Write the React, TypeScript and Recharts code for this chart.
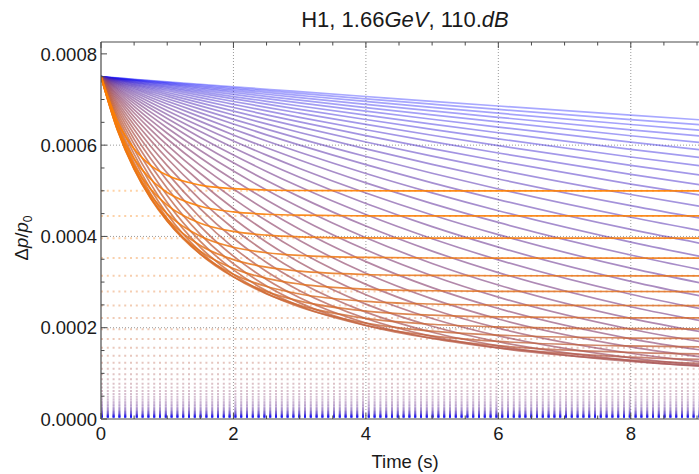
import React from 'react';
import { LineChart, Line, XAxis, YAxis, ReferenceLine } from 'recharts';

// Values in units of 1e-6 (Δp/p0 × 10^6)
const TIMES = [0, 0.25, 0.5, 0.75, 1, 1.5, 2, 2.5, 3, 4, 5, 6, 8, 10];

const ASYMPTOTES = [500, 445, 396.1, 352.5, 313.7, 279.2, 248.5, 221.2, 196.8, 175.2, 155.9, 138.8, 123.5, 109.9, 97.8, 87.1, 77.5, 69.0, 61.4, 54.6, 48.6, 43.3, 38.5, 34.3, 30.5, 27.2, 24.2, 21.5, 19.1, 17.0, 15.2, 13.5, 12.0, 10.7, 9.5, 8.5, 7.5, 6.7, 6.0, 5.3, 4.7, 4.2, 3.7];

const CURVES = [
  [750, 651.6, 592.0, 555.8, 533.8, 512.4, 504.6, 501.7, 500.6, 500.1, 500, 500, 500, 500],
  [750, 640.4, 570.3, 525.3, 496.4, 466.1, 453.7, 448.6, 446.5, 445.2, 445, 445, 445, 445],
  [750, 634.3, 556.4, 504.0, 468.7, 428.9, 410.9, 402.8, 399.1, 396.7, 396.2, 396.1, 396.1, 396.1],
  [750, 632.0, 548.9, 490.6, 449.5, 400.4, 376.2, 364.2, 358.3, 353.9, 352.8, 352.6, 352.5, 352.5],
  [750, 632.5, 546.7, 483.9, 438.1, 380.1, 349.2, 332.6, 323.8, 316.6, 314.5, 313.9, 313.7, 313.7],
  [750, 635.3, 548.5, 482.9, 433.3, 367.4, 329.7, 308.1, 295.7, 284.6, 281.0, 279.8, 279.3, 279.2],
  [750, 639.7, 553.6, 486.5, 434.1, 361.4, 317.2, 290.3, 273.9, 257.9, 252.0, 249.8, 248.7, 248.5],
  [750, 645.1, 561.0, 493.6, 439.5, 361.5, 311.4, 279.1, 258.4, 236.5, 227.5, 223.8, 221.6, 221.2],
  [750, 651.1, 570.0, 503.3, 448.5, 366.6, 311.4, 274.1, 248.9, 220.5, 207.6, 201.7, 197.8, 197.0],
  [750, 657.7, 580.1, 515.1, 460.5, 376.2, 316.8, 274.9, 245.4, 210.0, 192.5, 183.8, 177.3, 175.7],
  [750, 664.2, 590.8, 528.0, 474.3, 389.0, 326.6, 280.8, 247.4, 204.9, 182.2, 170.0, 160.0, 157.1],
  [750, 670.8, 601.9, 541.9, 489.7, 404.7, 340.2, 291.4, 254.4, 205.2, 176.9, 160.6, 146.0, 141.1],
  [750, 677.2, 612.9, 556.0, 505.8, 422.1, 356.7, 305.7, 265.8, 210.3, 176.5, 155.8, 135.5, 128.0],
  [750, 683.4, 623.7, 570.2, 522.3, 440.9, 375.6, 323.2, 281.1, 220.2, 180.9, 155.7, 128.9, 117.8],
  [750, 689.2, 634.1, 584.1, 538.8, 460.4, 396.0, 343.0, 299.5, 234.2, 190.0, 160.1, 126.3, 110.8],
  [750, 694.7, 644.1, 597.6, 555.1, 480.3, 417.4, 364.7, 320.3, 251.7, 203.3, 169.2, 128.0, 107.4],
  [750, 699.9, 653.4, 610.5, 570.8, 500.0, 439.3, 387.4, 342.9, 272.2, 220.3, 182.2, 133.9, 107.8],
  [750, 704.7, 662.3, 622.8, 585.8, 519.3, 461.3, 410.8, 366.7, 295.0, 240.5, 199.1, 144.0, 112.2],
  [750, 709.0, 670.5, 634.2, 600.1, 537.9, 482.8, 434.2, 391.1, 319.4, 263.2, 219.2, 158.0, 120.6],
  [750, 713.0, 678.0, 644.8, 613.5, 555.6, 503.8, 457.3, 415.6, 344.8, 287.8, 242.1, 175.7, 132.8],
  [750, 716.7, 685.0, 654.8, 626.1, 572.5, 524.0, 480.0, 440.0, 370.8, 313.9, 267.0, 196.7, 148.9],
  [750, 720.1, 691.5, 664.0, 637.7, 588.4, 543.2, 501.8, 463.8, 397.0, 340.8, 293.5, 220.3, 168.5],
  [750, 723.1, 697.3, 672.4, 648.4, 603.2, 561.4, 522.6, 486.7, 422.7, 367.9, 320.8, 246.0, 191.0],
  [750, 725.9, 702.7, 680.1, 658.4, 617.0, 578.4, 542.4, 508.7, 447.9, 394.9, 348.7, 273.4, 216.0],
  [750, 728.4, 707.4, 687.1, 667.3, 629.7, 594.2, 560.8, 529.5, 472.2, 421.4, 376.5, 301.6, 242.9],
  [750, 730.6, 711.8, 693.5, 675.6, 641.4, 608.9, 578.1, 549.0, 495.3, 447.1, 404.0, 330.4, 271.2],
  [750, 732.7, 715.8, 699.3, 683.2, 652.1, 622.4, 594.3, 567.3, 517.3, 471.9, 430.7, 359.3, 300.4],
  [750, 734.5, 719.3, 704.5, 690.0, 661.9, 634.9, 609.0, 584.3, 537.9, 495.4, 456.3, 387.6, 329.7],
  [750, 736.1, 722.6, 709.2, 696.1, 670.7, 646.2, 622.6, 600.0, 557.2, 517.5, 480.8, 415.3, 359.0],
  [750, 737.6, 725.4, 713.5, 701.7, 678.8, 656.6, 635.2, 614.4, 575.2, 538.4, 504.0, 442.0, 387.9],
  [750, 738.9, 728.1, 717.3, 706.8, 686.1, 666.1, 646.6, 627.8, 591.8, 557.8, 525.9, 467.6, 415.9],
  [750, 740.1, 730.4, 720.8, 711.3, 692.7, 674.7, 657.1, 639.9, 607.0, 575.8, 546.3, 491.8, 442.8],
  [750, 741.2, 732.5, 723.9, 715.4, 698.7, 682.4, 666.5, 651.0, 621.0, 592.4, 565.2, 514.6, 468.5],
  [750, 742.2, 734.4, 726.7, 719.1, 704.1, 689.5, 675.0, 661.0, 633.8, 607.7, 582.8, 535.8, 492.9],
  [750, 743.0, 736.1, 729.2, 722.4, 708.9, 695.7, 682.8, 670.2, 645.4, 621.7, 598.9, 555.7, 515.7],
  [750, 743.8, 737.6, 731.4, 725.3, 713.3, 701.5, 689.8, 678.4, 656.2, 634.6, 613.7, 574.1, 537.1],
  [750, 744.4, 738.8, 733.4, 727.9, 717.2, 706.5, 696.1, 685.8, 665.7, 646.1, 627.2, 590.9, 556.9],
  [750, 745.0, 740.1, 735.2, 730.3, 720.7, 711.2, 701.8, 692.5, 674.4, 656.7, 639.5, 606.5, 575.2],
  [750, 745.6, 741.2, 736.9, 732.5, 723.8, 715.4, 707.0, 698.6, 682.3, 666.3, 650.8, 620.6, 592.1],
  [750, 746.0, 742.2, 738.2, 734.3, 726.6, 719.0, 711.5, 704.0, 689.3, 674.9, 660.9, 633.6, 607.5],
  [750, 746.5, 743.0, 739.5, 736.0, 729.1, 722.3, 715.5, 708.9, 695.7, 682.7, 670.0, 645.3, 621.6],
  [750, 746.9, 743.7, 740.7, 737.5, 731.4, 725.3, 719.3, 713.3, 701.4, 689.8, 678.3, 656.0, 634.5],
  [750, 747.2, 744.4, 741.6, 738.8, 733.4, 727.9, 722.5, 717.2, 706.6, 696.1, 685.8, 665.7, 646.2],
];

const X_TICKS = [0, 0.5, 1, 1.5, 2, 2.5, 3, 3.5, 4, 4.5, 5, 5.5, 6, 6.5, 7, 7.5, 8, 8.5, 9];
const X_MAJOR = [0, 2, 4, 6, 8];
const X_LABELS = ['0', '2', '4', '6', '8'];
const Y_TICKS = [0, 50, 100, 150, 200, 250, 300, 350, 400, 450, 500, 550, 600, 650, 700, 750, 800];
const Y_MAJOR = [0, 200, 400, 600, 800];
const Y_LABELS = ['0.0000', '0.0002', '0.0004', '0.0006', '0.0008'];
const GRID_X = [2, 4, 6, 8];
const GRID_Y = [200, 400, 600];

const W = 699;
const H = 474;
const MARGIN = { top: 41, right: 0, bottom: 54, left: 100 };
const FONT = '"Liberation Sans", Arial, Helvetica, sans-serif';
const AXIS = '#4a4a4a';
const TEXT = '#1a1a1a';
const N = CURVES.length;

const table = TIMES.map((t, i) => {
  const row: Record<string, number> = { t };
  CURVES.forEach((c, k) => {
    row['c' + k] = c[i];
  });
  return row;
});

function mix(k: number) {
  const f = k / (N - 1);
  return `rgb(${Math.round(255 * (1 - f))},${Math.round(128 * (1 - f))},${Math.round(255 * f)})`;
}

const XTickBottom = (props: any) => {
  const { x, payload } = props;
  const idx = X_MAJOR.indexOf(payload.value);
  const major = idx >= 0;
  return (
    <g>
      <line x1={x} x2={x} y1={419} y2={419 - (major ? 6 : 3.5)} stroke={AXIS} strokeWidth={1} />
      {major && (
        <text x={x} y={440} textAnchor="middle" fontSize={18.5} fontFamily={FONT} fill={TEXT}>
          {X_LABELS[idx]}
        </text>
      )}
    </g>
  );
};

const XTickTop = (props: any) => {
  const { x, payload } = props;
  const major = X_MAJOR.indexOf(payload.value) >= 0;
  return <line x1={x} x2={x} y1={42} y2={42 + (major ? 6 : 3.5)} stroke={AXIS} strokeWidth={1} />;
};

const YTick = (props: any) => {
  const { y, payload } = props;
  const idx = Y_MAJOR.indexOf(payload.value);
  const major = idx >= 0;
  return (
    <g>
      <line x1={101} x2={101 + (major ? 6 : 3.5)} y1={y} y2={y} stroke={AXIS} strokeWidth={1} />
      {major && (
        <text x={97} y={y + 6.7} textAnchor="end" fontSize={18.5} fontFamily={FONT} fill={TEXT}>
          {Y_LABELS[idx]}
        </text>
      )}
    </g>
  );
};

export default function App() {
  const order = CURVES.map((_, k) => N - 1 - k);
  return (
    <div style={{ position: 'absolute', left: 0, top: 0, width: W, height: H, background: '#fff', overflow: 'hidden' }}>
      <LineChart width={W} height={H} data={table} margin={MARGIN}>
        <XAxis
          dataKey="t"
          type="number"
          domain={[0, 9.03]}
          allowDataOverflow
          ticks={X_TICKS}
          interval={0}
          height={1}
          tickSize={0}
          tickMargin={0}
          tickLine={false}
          tick={<XTickBottom />}
          axisLine={{ stroke: AXIS, strokeWidth: 1.2 }}
        />
        <XAxis
          xAxisId="top"
          orientation="top"
          dataKey="t"
          type="number"
          domain={[0, 9.03]}
          allowDataOverflow
          ticks={X_TICKS}
          interval={0}
          height={1}
          tickSize={0}
          tickMargin={0}
          tickLine={false}
          tick={<XTickTop />}
          axisLine={{ stroke: AXIS, strokeWidth: 1.2 }}
        />
        <YAxis
          type="number"
          domain={[0, 826]}
          allowDataOverflow
          ticks={Y_TICKS}
          interval={0}
          width={1}
          tickSize={0}
          tickMargin={0}
          tickLine={false}
          tick={<YTick />}
          axisLine={{ stroke: AXIS, strokeWidth: 1.2 }}
        />
        {GRID_X.map((g) => (
          <ReferenceLine key={'gx' + g} x={g} stroke="#9a9a9a" strokeWidth={1} strokeDasharray="1 2" />
        ))}
        {GRID_Y.map((g) => (
          <ReferenceLine key={'gy' + g} y={g} stroke="#9a9a9a" strokeWidth={1} strokeDasharray="1 2" />
        ))}
        {ASYMPTOTES.map((a, k) => (
          <ReferenceLine
            key={'a' + k}
            y={a}
            stroke={mix(k)}
            strokeOpacity={0.35}
            strokeWidth={2}
            strokeDasharray="2 3.8"
          />
        ))}
        {order.map((k) => (
          <Line
            key={'c' + k}
            dataKey={'c' + k}
            type="monotone"
            stroke={mix(k)}
            strokeOpacity={0.9 - 0.56 * (k / (N - 1))}
            strokeWidth={1.7}
            dot={false}
            activeDot={false}
            isAnimationActive={false}
          />
        ))}
      </LineChart>
      <svg width={W} height={H} style={{ position: 'absolute', left: 0, top: 0, pointerEvents: 'none' }}>
        <text x={405} y={27} textAnchor="middle" fontSize={22} fontFamily={FONT} fill={TEXT}>
          H1, 1.66<tspan fontStyle="italic">GeV</tspan>, 110.<tspan fontStyle="italic">dB</tspan>
        </text>
        <text x={405} y={468} textAnchor="middle" fontSize={18.5} fontFamily={FONT} fill={TEXT}>
          Time (s)
        </text>
        <text transform="translate(28,238) rotate(-90)" textAnchor="middle" fontSize={18.5} fontFamily={FONT} fill={TEXT}>
          Δ<tspan fontStyle="italic">p</tspan>/<tspan fontStyle="italic">p</tspan>
          <tspan fontSize={12} dy={4}>0</tspan>
        </text>
      </svg>
    </div>
  );
}
